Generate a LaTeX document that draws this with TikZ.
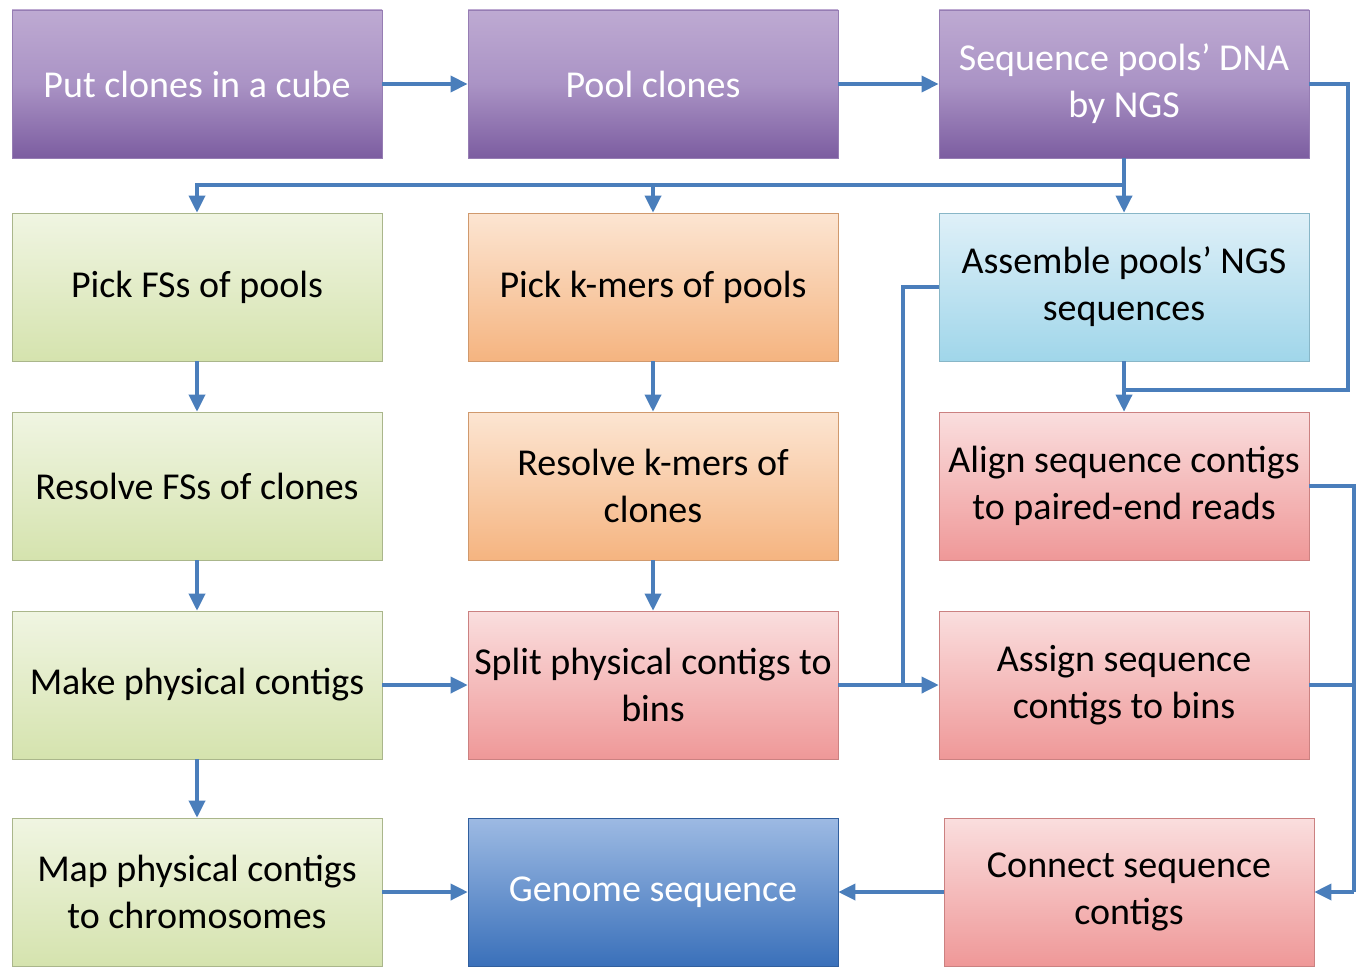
\documentclass[tikz,border=0pt]{standalone}
\usepackage{fontspec}
\setmainfont{Carlito}
\usetikzlibrary{arrows.meta}
\definecolor{ln}{HTML}{4A7EBB}
\definecolor{puT}{HTML}{BEAAD2}\definecolor{puM}{HTML}{AA93C5}\definecolor{puB}{HTML}{7C5DA0}
\definecolor{grT}{HTML}{F0F5E2}\definecolor{grB}{HTML}{D5E3AE}
\definecolor{orT}{HTML}{FCE5D2}\definecolor{orB}{HTML}{F5B480}
\definecolor{blT}{HTML}{DFF0F8}\definecolor{blB}{HTML}{A0D6EA}
\definecolor{reT}{HTML}{FADEDE}\definecolor{reB}{HTML}{EF9898}
\definecolor{geT}{HTML}{9DBAE3}\definecolor{geB}{HTML}{3A70BA}
\tikzset{
  x=1pt, y=-1pt,
  box/.style={rectangle, minimum width=370pt, minimum height=148pt, inner sep=0pt,
    align=center, font=\fontsize{38}{47}\selectfont},
  purplebox/.style={box, top color=puT, bottom color=puB, middle color=puM, draw=puB!80!white, line width=0.8pt, text=white},
  greenbox/.style={box, top color=grT, bottom color=grB, draw=grB!80!black, line width=0.6pt},
  orangebox/.style={box, top color=orT, bottom color=orB, draw=orB!85!black, line width=0.6pt},
  bluebox/.style={box, top color=blT, bottom color=blB, draw=blB!85!black, line width=0.6pt},
  redbox/.style={box, top color=reT, bottom color=reB, draw=reB!85!black, line width=0.6pt},
  genbox/.style={box, top color=geT, bottom color=geB, draw=geB!85!black, line width=0.6pt, text=white},
  conn/.style={draw=ln, line width=3.5pt},
  arr/.style={conn, -{Triangle[length=17pt,width=16pt]}},
}
\begin{document}
\begin{tikzpicture}
\useasboundingbox (0,0) rectangle (1356,966);
\clip (0,0) rectangle (1356,966);
% row 1
\node[purplebox] (a1) at (197,84) {Put clones in a cube};
\node[purplebox] (a2) at (653,84) {Pool clones};
\node[purplebox] (a3) at (1124,84) {Sequence pools’ DNA\\by NGS};
% row 2
\node[greenbox] (b1) at (197,287) {Pick FSs of pools};
\node[orangebox] (b2) at (653,287) {Pick k-mers of pools};
\node[bluebox] (b3) at (1124,287) {Assemble pools’ NGS\\sequences};
% row 3
\node[greenbox] (c1) at (197,486) {Resolve FSs of clones};
\node[orangebox] (c2) at (653,486) {Resolve k-mers of\\clones};
\node[redbox] (c3) at (1124,486) {Align sequence contigs\\to paired-end reads};
% row 4
\node[greenbox] (d1) at (197,685) {Make physical contigs};
\node[redbox] (d2) at (653,685) {Split physical contigs to\\bins};
\node[redbox] (d3) at (1124,685) {Assign sequence\\contigs to bins};
% row 5
\node[greenbox] (e1) at (197,892) {Map physical contigs\\to chromosomes};
\node[genbox] (e2) at (653,892) {Genome sequence};
\node[redbox] (e3) at (1129,892) {Connect sequence\\contigs};
% coordinates
\coordinate (j) at (1124,185);
\coordinate (r1) at (1348,390);
\coordinate (k) at (1124,390);
\coordinate (m) at (903,685);
\coordinate (r2) at (1354,892);
\coordinate (r3) at (1354,685);
% connectors
\draw[arr] (a1.east) -- (a2.west);
\draw[arr] (a2.east) -- (a3.west);
\draw[conn] (a3.south) -- (j);
\draw[arr] (j) -| (b1.north);
\draw[arr] (j) -| (b2.north);
\draw[arr] (j) -- (b3.north);
\draw[conn] (a3.east) -| (r1) -- (k);
\draw[arr] (b3.south) -- (c3.north);
\draw[arr] (b1.south) -- (c1.north);
\draw[arr] (c1.south) -- (d1.north);
\draw[arr] (d1.south) -- (e1.north);
\draw[arr] (b2.south) -- (c2.north);
\draw[arr] (c2.south) -- (d2.north);
\draw[arr] (d1.east) -- (d2.west);
\draw[arr] (d2.east) -- (d3.west);
\draw[conn] (b3.west) -| (m);
\draw[conn] (c3.east) -| (r2);
\draw[arr] (r2) -- (e3.east);
\draw[conn] (d3.east) -- (r3);
\draw[arr] (e1.east) -- (e2.west);
\draw[arr] (e3.west) -- (e2.east);
\end{tikzpicture}
\end{document}
